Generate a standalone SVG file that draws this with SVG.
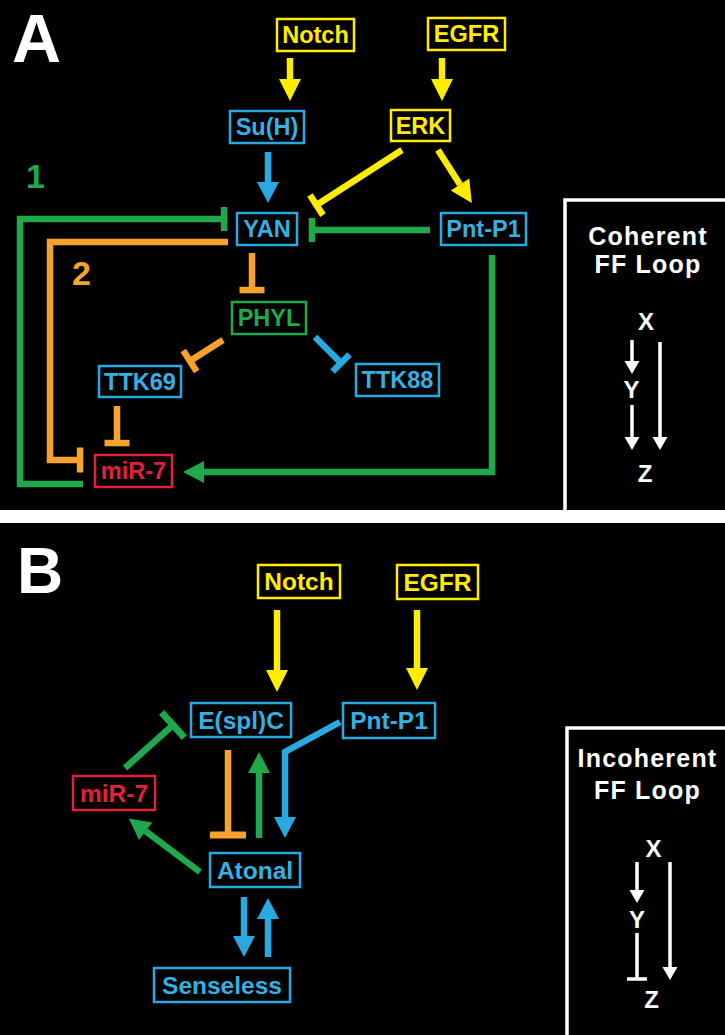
<svg xmlns="http://www.w3.org/2000/svg" width="725" height="1035" viewBox="0 0 725 1035">
<style>
text{font-family:"Liberation Sans",Arial,Helvetica,sans-serif;font-weight:bold}
.box{fill:none;stroke-width:2.5}
.lblA{font-size:23.5px;text-anchor:middle}
.lblB{font-size:24.5px;text-anchor:middle}
.cy{stroke:#ffec00}.cb{stroke:#29a9e1}.cg{stroke:#20a84c}.co{stroke:#f6a22b}.cr{stroke:#e3203a}
.ty{fill:#ffec00}.tb{fill:#35b0e4}.tg{fill:#20a84c}.to{fill:#f6a22b}.tr{fill:#e3203a}.tw{fill:#fff}
.con path,.con line{fill:none;stroke-width:6.5;stroke-linejoin:miter}
.leg path{fill:none;stroke:#fff;stroke-width:3.5}
.frame{fill:none;stroke:#fff;stroke-width:3.5}
.hdr{font-size:25px;text-anchor:middle;letter-spacing:1.2px}
.xyz{font-size:24px;text-anchor:middle}
</style>
<defs>
<marker id="ah-y" markerUnits="userSpaceOnUse" orient="auto" overflow="visible" markerWidth="1" markerHeight="1"><path d="M0,-11 L22,0 L0,11 z" fill="#ffec00"/></marker>
<marker id="ah-b" markerUnits="userSpaceOnUse" orient="auto" overflow="visible" markerWidth="1" markerHeight="1"><path d="M0,-11 L21,0 L0,11 z" fill="#29a9e1"/></marker>
<marker id="ah-g" markerUnits="userSpaceOnUse" orient="auto" overflow="visible" markerWidth="1" markerHeight="1"><path d="M0,-11 L21,0 L0,11 z" fill="#20a84c"/></marker>
<marker id="ah-w" markerUnits="userSpaceOnUse" orient="auto" overflow="visible" markerWidth="1" markerHeight="1"><path d="M0,-7.5 L13,0 L0,7.5 z" fill="#fff"/></marker>
<marker id="bar-y" markerUnits="userSpaceOnUse" orient="auto" overflow="visible" markerWidth="1" markerHeight="1"><path d="M-3.2,-12 h6.5 v24 h-6.5 z" fill="#ffec00"/></marker>
<marker id="bar-b" markerUnits="userSpaceOnUse" orient="auto" overflow="visible" markerWidth="1" markerHeight="1"><path d="M-3.2,-12 h6.5 v24 h-6.5 z" fill="#29a9e1"/></marker>
<marker id="bar-g" markerUnits="userSpaceOnUse" orient="auto" overflow="visible" markerWidth="1" markerHeight="1"><path d="M-3.2,-12 h6.5 v24 h-6.5 z" fill="#20a84c"/></marker>
<marker id="bar-o" markerUnits="userSpaceOnUse" orient="auto" overflow="visible" markerWidth="1" markerHeight="1"><path d="M-3.2,-12.5 h6.5 v25 h-6.5 z" fill="#f6a22b"/></marker>
<marker id="barL-g" markerUnits="userSpaceOnUse" orient="auto" overflow="visible" markerWidth="1" markerHeight="1"><path d="M-3.5,-17 h7 v34 h-7 z" fill="#20a84c"/></marker>
<marker id="barL-o" markerUnits="userSpaceOnUse" orient="auto" overflow="visible" markerWidth="1" markerHeight="1"><path d="M-3.5,-18 h7 v36 h-7 z" fill="#f6a22b"/></marker>
<marker id="bar-w" markerUnits="userSpaceOnUse" orient="auto" overflow="visible" markerWidth="1" markerHeight="1"><path d="M-1.75,-10 h3.5 v20 h-3.5 z" fill="#fff"/></marker>
</defs>
<rect width="725" height="1035" fill="#000"/>
<rect x="0" y="510" width="725" height="13" fill="#fff"/>

<!-- Panel labels -->
<text x="12" y="62" font-size="68" class="tw">A</text>
<text x="17" y="593" font-size="64" class="tw">B</text>
<text x="26" y="188" font-size="34" class="tg">1</text>
<text x="72" y="285" font-size="34" class="to">2</text>

<!-- Connectors panel A -->
<g id="connectors-A" class="con">
<line x1="290" y1="58" x2="290" y2="79" class="cy" marker-end="url(#ah-y)"/>
<line x1="442" y1="58" x2="442" y2="79" class="cy" marker-end="url(#ah-y)"/>
<line x1="268" y1="152" x2="268" y2="182" class="cb" marker-end="url(#ah-b)"/>
<line x1="402" y1="150" x2="316.5" y2="205" class="cy" marker-end="url(#bar-y)"/>
<line x1="438" y1="150" x2="460" y2="184.5" class="cy" marker-end="url(#ah-y)"/>
<line x1="430" y1="230" x2="312" y2="230" class="cg" marker-end="url(#bar-g)"/>
<path d="M83,484 H20 V219 H224" class="cg" marker-end="url(#bar-g)"/>
<path d="M228,242 H50 V460 H80" class="co" marker-end="url(#bar-o)"/>
<path d="M252,253 V290" class="co" marker-end="url(#bar-o)"/>
<path d="M223,340 L190,361" class="co" marker-end="url(#bar-o)"/>
<path d="M315,337 L341,363" class="cb" marker-end="url(#bar-b)"/>
<path d="M117,406 V443" class="co" marker-end="url(#bar-o)"/>
<path d="M492,255 V472 H204" class="cg" marker-end="url(#ah-g)"/>
</g>

<!-- Connectors panel B -->
<g id="connectors-B" class="con">
<path d="M277,610 V670" class="cy" marker-end="url(#ah-y)"/>
<path d="M417,610 V668" class="cy" marker-end="url(#ah-y)"/>
<path d="M125,768 L173,725" class="cg" marker-end="url(#barL-g)"/>
<path d="M200,872 L145.6,831.2" class="cg" marker-end="url(#ah-g)"/>
<path d="M228,750 V835" class="co" marker-end="url(#barL-o)"/>
<path d="M259,838 V773" class="cg" marker-end="url(#ah-g)"/>
<path d="M340,722 L285,752 V817" class="cb" marker-end="url(#ah-b)"/>
<path d="M244,897 V936" class="cb" marker-end="url(#ah-b)"/>
<path d="M268,957 V919" class="cb" marker-end="url(#ah-b)"/>
</g>

<!-- Nodes panel A -->
<g id="A-Notch"><rect class="box cy" x="277" y="19" width="77" height="32"/><text class="lblA ty" x="315.5" y="43.4">Notch</text></g>
<g id="A-EGFR"><rect class="box cy" x="428" y="18" width="77" height="32"/><text class="lblA ty" x="466.5" y="42.4">EGFR</text></g>
<g id="A-SuH"><rect class="box cb" x="230" y="111" width="74" height="32"/><text class="lblA tb" x="267" y="135.4">Su(H)</text></g>
<g id="A-ERK"><rect class="box cy" x="391" y="110" width="59" height="31"/><text class="lblA ty" x="420.5" y="134">ERK</text></g>
<g id="A-YAN"><rect class="box cb" x="237" y="213" width="60" height="32"/><text class="lblA tb" x="267" y="237.4">YAN</text></g>
<g id="A-PntP1"><rect class="box cb" x="441" y="213" width="85" height="32"/><text class="lblA tb" x="483.5" y="237.4">Pnt-P1</text></g>
<g id="A-PHYL"><rect class="box cg" x="232" y="302" width="74" height="32"/><text class="lblA tg" x="269" y="326.4">PHYL</text></g>
<g id="A-TTK69"><rect class="box cb" x="99" y="366" width="82" height="31"/><text class="lblA tb" x="140" y="390">TTK69</text></g>
<g id="A-TTK88"><rect class="box cb" x="356" y="364" width="83" height="32"/><text class="lblA tb" x="397.5" y="388.4">TTK88</text></g>
<g id="A-miR7"><rect class="box cr" x="95" y="455" width="77" height="32"/><text class="lblA tr" x="133.5" y="479.4">miR-7</text></g>

<!-- Legend A -->
<g id="A-legend">
<path class="frame" d="M565,510 V200 H727"/>
<text class="hdr tw" x="648" y="245">Coherent</text>
<text class="hdr tw" x="648" y="273">FF Loop</text>
<text class="xyz tw" x="646" y="330">X</text>
<text class="xyz tw" x="631.5" y="398">Y</text>
<text class="xyz tw" x="645" y="482">Z</text>
<g class="leg">
<path d="M632,340 V361" marker-end="url(#ah-w)"/>
<path d="M632,405 V437" marker-end="url(#ah-w)"/>
<path d="M660,342 V437" marker-end="url(#ah-w)"/>
</g>
</g>

<!-- Nodes panel B -->
<g id="B-Notch"><rect class="box cy" x="258" y="565" width="82" height="33"/><text class="lblB ty" x="299" y="590.3">Notch</text></g>
<g id="B-EGFR"><rect class="box cy" x="397" y="565" width="81" height="34"/><text class="lblB ty" x="437.5" y="590.8">EGFR</text></g>
<g id="B-EsplC"><rect class="box cb" x="191" y="703" width="100" height="34"/><text class="lblB tb" x="241" y="728.8">E(spl)C</text></g>
<g id="B-PntP1"><rect class="box cb" x="343" y="703" width="92" height="35"/><text class="lblB tb" x="389" y="729.3">Pnt-P1</text></g>
<g id="B-miR7"><rect class="box cr" x="73" y="776" width="82" height="34"/><text class="lblB tr" x="114" y="801.8">miR-7</text></g>
<g id="B-Atonal"><rect class="box cb" x="210" y="853" width="90" height="34"/><text class="lblB tb" x="255" y="878.8">Atonal</text></g>
<g id="B-Senseless"><rect class="box cb" x="154" y="968" width="136" height="34"/><text class="lblB tb" x="222" y="993.8">Senseless</text></g>

<!-- Legend B -->
<g id="B-legend">
<path class="frame" d="M567,1037 V728 H727"/>
<text class="hdr tw" x="647.5" y="767">Incoherent</text>
<text class="hdr tw" x="647.5" y="799">FF Loop</text>
<text class="xyz tw" x="653.5" y="857">X</text>
<text class="xyz tw" x="637" y="928">Y</text>
<text class="xyz tw" x="651.5" y="1008">Z</text>
<g class="leg">
<path d="M637,862 V890" marker-end="url(#ah-w)"/>
<path d="M637,933 V979" marker-end="url(#bar-w)"/>
<path d="M670,862 V967" marker-end="url(#ah-w)"/>
</g>
</g>
</svg>
